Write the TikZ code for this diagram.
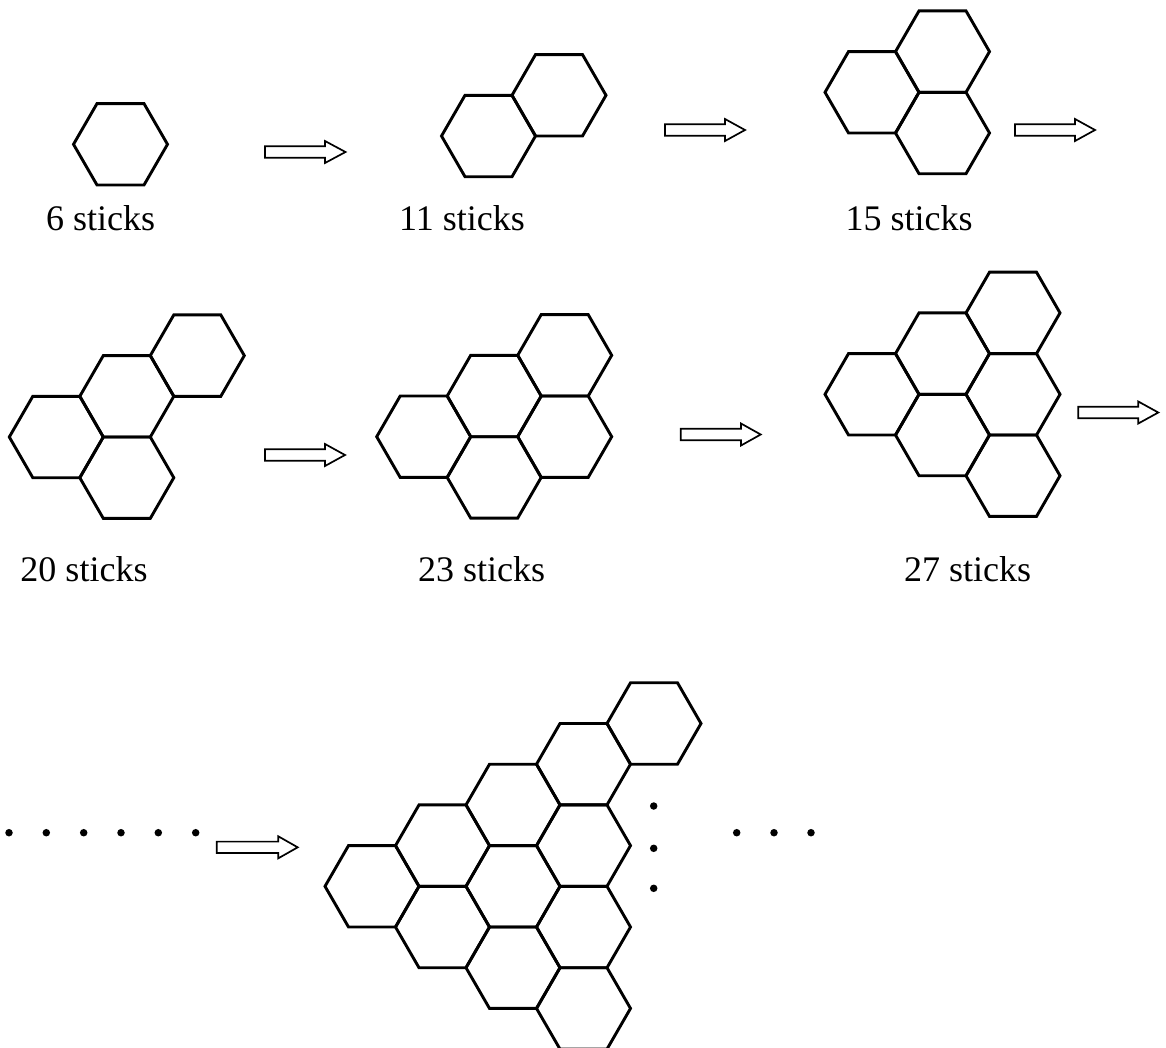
\documentclass[tikz,border=0pt]{standalone}
\usepackage{fontspec}
\setmainfont{Liberation Serif}
\newcommand\hexfig[3]{%
  \foreach \i/\j in {#3} {\pic at ({#1+70.5*\i},{#2-40.703*\i+81.406*\j}) {hexpic};}%
}
\newcommand\blockarr[4]{%
  \draw[blockarrow] ({#1},{#4-5.7}) -- ({#2},{#4-5.7}) -- ({#2},{#4-11}) -- ({#3},{#4})
    -- ({#2},{#4+11}) -- ({#2},{#4+5.7}) -- ({#1},{#4+5.7}) -- cycle;%
}
\begin{document}
\begin{tikzpicture}[x=1pt,y=-1pt,
  hexline/.style={line width=2.9pt},
  blockarrow/.style={draw,line width=1.7pt,fill=white},
  dotnode/.style={circle,fill=black,inner sep=0pt,minimum size=7.5pt},
  lbl/.style={anchor=base,font=\fontsize{36}{40}\selectfont,inner sep=0pt},
  hexpic/.pic={\draw[hexline] (47,0) -- (23.5,40.703) -- (-23.5,40.703) -- (-47,0)
     -- (-23.5,-40.703) -- (23.5,-40.703) -- cycle;}]
\useasboundingbox (0,0) rectangle (1166,1047);

% row 1
\hexfig{120.5}{144.3}{0/0}
\hexfig{488.5}{136}{0/0,1/0}
\hexfig{872}{92.3}{0/0,1/0,1/1}
% row 2
\hexfig{56.3}{437}{0/0,1/0,2/0,1/1}
\hexfig{423.7}{436.7}{0/0,1/0,2/0,1/1,2/1}
\hexfig{872}{394.3}{0/0,1/0,2/0,1/1,2/1,2/2}
% row 3
\hexfig{372}{886.3}{0/0,1/0,2/0,3/0,4/0,1/1,2/1,3/1,2/2,3/2,3/3}

% arrows
\blockarr{265}{325}{345.5}{152}
\blockarr{665}{725}{745}{130}
\blockarr{1015}{1075}{1095}{130}
\blockarr{265}{325}{345}{455}
\blockarr{680.7}{741}{760.7}{434.5}
\blockarr{1078.3}{1138.3}{1158.3}{412.5}
\blockarr{216.7}{278.3}{297.7}{847.3}

% labels
\node[lbl] (l6)  at (100.5,230) {6 sticks};
\node[lbl] (l11) at (462,230) {11 sticks};
\node[lbl] (l15) at (909,230) {15 sticks};
\node[lbl] (l20) at (84,581) {20 sticks};
\node[lbl] (l23) at (481.5,581) {23 sticks};
\node[lbl] (l27) at (967.5,581) {27 sticks};

% dots
\foreach \x [count=\k] in {9,46.3,83.7,121,158.3,195.7}
  \node[dotnode] (dl\k) at (\x,832.7) {};
\foreach \x [count=\k] in {736.7,774,811}
  \node[dotnode] (dr\k) at (\x,832.7) {};
\foreach \y [count=\k] in {806,848.3,888.3}
  \node[dotnode] (dv\k) at (653.7,\y) {};
\end{tikzpicture}
\end{document}
